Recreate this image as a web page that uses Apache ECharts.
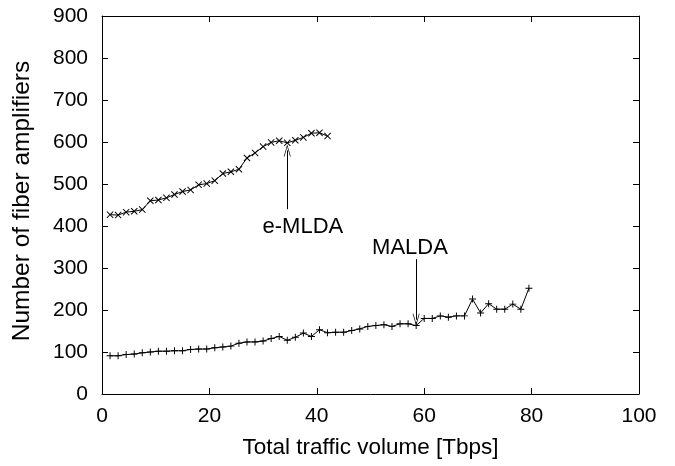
<!DOCTYPE html>
<html>
<head>
<meta charset="utf-8">
<script src="https://cdn.jsdelivr.net/npm/echarts@6/dist/echarts.min.js"></script>
<style>
html,body{margin:0;padding:0;background:#fff;}
#chart{width:675px;height:466px;}
</style>
</head>
<body>
<div id="chart"></div>
<script>
// Data
const xStep = 1.5;
const emldaValues = [427, 426, 433, 435, 439, 460, 462, 467, 475, 482, 486, 498, 501, 508, 525, 529, 535, 562, 574, 589, 599, 603, 598, 604, 611, 621, 622, 614];
const maldaValues = [91, 91, 94, 95, 98, 100, 102, 102, 103, 103, 106, 107, 107, 110, 112, 114, 121, 124, 124, 126, 132, 137, 128, 135, 145, 137, 153, 146, 147, 147, 151,
  155, 161, 163, 165, 161, 167, 167, 163, 180, 180, 186, 183, 186, 186, 226, 193, 215, 202, 202, 214, 202, 252];
const xTicks = [0, 20, 40, 60, 80, 100];
const yTicks = [0, 100, 200, 300, 400, 500, 600, 700, 800, 900];
const emldaLabel = {text: 'e-MLDA', at: [29.8, 398], arrowFrom: [34.5, 440], arrowTo: [34.5, 580]};
const maldaLabel = {text: 'MALDA', at: [50.2, 348], arrowFrom: [58.5, 321], arrowTo: [58.5, 177]};

const toPairs = vals => vals.map((v, i) => [xStep * (i + 1), v]);

const FONT = '"Liberation Sans", Arial, Helvetica, sans-serif';
const xPath = 'path://M0,1 L1,0 L5,4 L9,0 L10,1 L6,5 L10,9 L9,10 L5,6 L1,10 L0,9 L4,5 Z';
const plusPath = 'path://M4.3,0 L5.7,0 L5.7,4.3 L10,4.3 L10,5.7 L5.7,5.7 L5.7,10 L4.3,10 L4.3,5.7 L0,5.7 L0,4.3 L4.3,4.3 Z';
const arrowHead = 'path://M0,10 L5,0 L10,10 L9,10 L5,2 L1,10 Z';

function annotation(lbl) {
  return {
    markLine: {
      silent: true,
      symbol: ['none', arrowHead],
      symbolSize: [7, 12],
      lineStyle: {color: '#000', width: 1, type: 'solid'},
      label: {show: false},
      data: [[{coord: lbl.arrowFrom}, {coord: lbl.arrowTo}]]
    },
    markPoint: {
      silent: true,
      symbol: 'circle',
      symbolSize: 1,
      itemStyle: {color: 'rgba(0,0,0,0)'},
      label: {show: true, position: 'right', distance: 0, formatter: lbl.text,
        color: '#000', fontFamily: FONT, fontSize: 22},
      data: [{coord: lbl.at}]
    }
  };
}

const chart = echarts.init(document.getElementById('chart'), null, {renderer: 'canvas'});
const axisCommon = {
  min: 0,
  axisLine: {show: true, onZero: false, lineStyle: {color: '#000', width: 1}},
  axisTick: {show: true, inside: true, length: 6, lineStyle: {color: '#000', width: 1}},
  splitLine: {show: false}
};
chart.setOption({
  animation: false,
  backgroundColor: '#fff',
  grid: {left: 102, right: 36, top: 16, bottom: 72, containLabel: false},
  xAxis: [
    Object.assign({}, axisCommon, {
      type: 'value', position: 'bottom', max: xTicks[xTicks.length - 1], interval: xTicks[1] - xTicks[0],
      name: 'Total traffic volume [Tbps]', nameLocation: 'middle', nameGap: 42,
      nameTextStyle: {color: '#000', fontFamily: FONT, fontSize: 22.5},
      axisLabel: {color: '#000', fontFamily: FONT, fontSize: 21, margin: 12}
    }),
    Object.assign({}, axisCommon, {
      type: 'value', position: 'top', max: xTicks[xTicks.length - 1], interval: xTicks[1] - xTicks[0],
      axisLabel: {show: false}
    })
  ],
  yAxis: [
    Object.assign({}, axisCommon, {
      type: 'value', position: 'left', max: yTicks[yTicks.length - 1], interval: yTicks[1] - yTicks[0],
      name: 'Number of fiber amplifiers', nameLocation: 'middle', nameGap: 67,
      nameTextStyle: {color: '#000', fontFamily: FONT, fontSize: 24.5, padding: [0, 0, 0, 8]},
      axisLabel: {color: '#000', fontFamily: FONT, fontSize: 21, margin: 14}
    }),
    Object.assign({}, axisCommon, {
      type: 'value', position: 'right', max: yTicks[yTicks.length - 1], interval: yTicks[1] - yTicks[0],
      axisLabel: {show: false}
    })
  ],
  series: [
    Object.assign({
      name: 'e-MLDA', type: 'line', xAxisIndex: 0, yAxisIndex: 0,
      data: toPairs(emldaValues),
      symbol: xPath, symbolSize: 7, showSymbol: true, showAllSymbol: true,
      itemStyle: {color: '#000'},
      lineStyle: {color: '#000', width: 1}
    }, annotation(emldaLabel)),
    Object.assign({
      name: 'MALDA', type: 'line', xAxisIndex: 0, yAxisIndex: 0,
      data: toPairs(maldaValues),
      symbol: plusPath, symbolSize: 7, showSymbol: true, showAllSymbol: true,
      itemStyle: {color: '#000'},
      lineStyle: {color: '#000', width: 1}
    }, annotation(maldaLabel))
  ]
});
</script>
</body>
</html>
